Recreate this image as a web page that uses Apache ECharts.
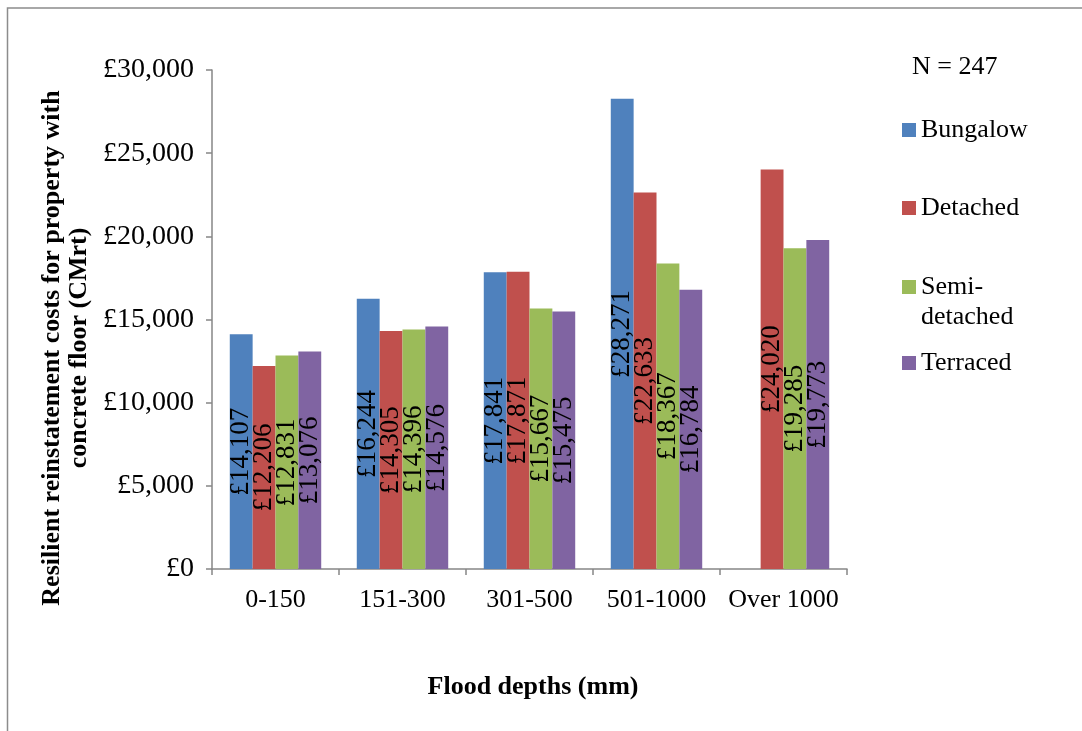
<!DOCTYPE html>
<html>
<head>
<meta charset="utf-8">
<script src="https://cdn.jsdelivr.net/npm/echarts@6/dist/echarts.min.js"></script>
<style>
html,body{margin:0;padding:0;background:#fff;}
#chart{width:1082px;height:731px;}
</style>
</head>
<body>
<div id="chart"></div>
<script>
const categories = ['0-150', '151-300', '301-500', '501-1000', 'Over 1000'];
const bungalow = [14107, 16244, 17841, 28271, null];
const detached = [12206, 14305, 17871, 22633, 24020];
const semiDetached = [12831, 14396, 15667, 18367, 19285];
const terraced = [13076, 14576, 15475, 16784, 19773];
const seriesNames = ['Bungalow', 'Detached', 'Semi-detached', 'Terraced'];
const yTicks = [0, 5000, 10000, 15000, 20000, 25000, 30000];

const FONT = 'Liberation Serif';
const colors = ['#4F81BD', '#C0504D', '#9BBB59', '#8064A2'];
const fmt = v => '£' + Number(v).toLocaleString('en-GB');

const chart = echarts.init(document.getElementById('chart'));

function mkSeries(name, data, color) {
  return {
    name: name,
    type: 'bar',
    data: data,
    barGap: '0%',
    barCategoryGap: '28%',
    itemStyle: { color: color },
    label: {
      show: true,
      position: 'inside',
      rotate: 90,
      formatter: p => fmt(p.value),
      color: '#000',
      fontFamily: FONT,
      fontSize: 27
    },
    emphasis: { disabled: true }
  };
}

const legendTops = [115, 193, 242, 348];
const legends = seriesNames.map((n, i) => ({
  data: [n],
  orient: 'vertical',
  left: 902,
  top: legendTops[i],
  padding: 0,
  icon: 'rect',
  itemWidth: 14,
  itemHeight: 14,
  selectedMode: false,
  formatter: name => name === 'Semi-detached' ? ' \nSemi-\ndetached' : name,
  textStyle: { fontFamily: FONT, fontSize: 26, lineHeight: 30, color: '#000' }
}));

chart.setOption({
  animation: false,
  color: colors,
  title: {
    text: 'N = 247',
    left: 912,
    top: 52,
    padding: 0,
    textStyle: { fontFamily: FONT, fontSize: 26, fontWeight: 'normal', color: '#000', lineHeight: 30 }
  },
  legend: legends,
  grid: { left: 212, top: 70, width: 635, height: 499, containLabel: false },
  xAxis: {
    type: 'category',
    data: categories,
    axisLine: { lineStyle: { color: '#868686', width: 1.5 } },
    axisTick: { show: true, length: 6, lineStyle: { color: '#868686', width: 1.5 } },
    axisLabel: { interval: 0, fontFamily: FONT, fontSize: 26, color: '#000', margin: 18 }
  },
  yAxis: {
    type: 'value',
    min: yTicks[0],
    max: yTicks[yTicks.length - 1],
    interval: yTicks[1] - yTicks[0],
    axisLine: { show: true, lineStyle: { color: '#868686', width: 1.5 } },
    axisTick: { show: true, length: 6, lineStyle: { color: '#868686', width: 1.5 } },
    splitLine: { show: false },
    axisLabel: { fontFamily: FONT, fontSize: 28, color: '#000', margin: 18, formatter: v => fmt(v) }
  },
  series: [
    mkSeries(seriesNames[0], bungalow, colors[0]),
    mkSeries(seriesNames[1], detached, colors[1]),
    mkSeries(seriesNames[2], semiDetached, colors[2]),
    mkSeries(seriesNames[3], terraced, colors[3])
  ],
  graphic: [
    {
      type: 'rect',
      shape: { x: 7.5, y: 8, width: 1200, height: 900 },
      style: { fill: 'none', stroke: '#8c8c8c', lineWidth: 1.5 },
      silent: true
    },
    {
      type: 'text',
      x: 66,
      y: 348,
      rotation: Math.PI / 2,
      style: {
        text: 'Resilient reinstatement costs for property with\nconcrete floor (CMrt)',
        font: 'bold 26px "Liberation Serif"',
        fill: '#000',
        align: 'center',
        verticalAlign: 'middle',
        lineHeight: 27
      },
      silent: true
    },
    {
      type: 'text',
      x: 533,
      y: 687,
      style: {
        text: 'Flood depths (mm)',
        font: 'bold 26px "Liberation Serif"',
        fill: '#000',
        align: 'center',
        verticalAlign: 'middle'
      },
      silent: true
    }
  ]
});
</script>
</body>
</html>
